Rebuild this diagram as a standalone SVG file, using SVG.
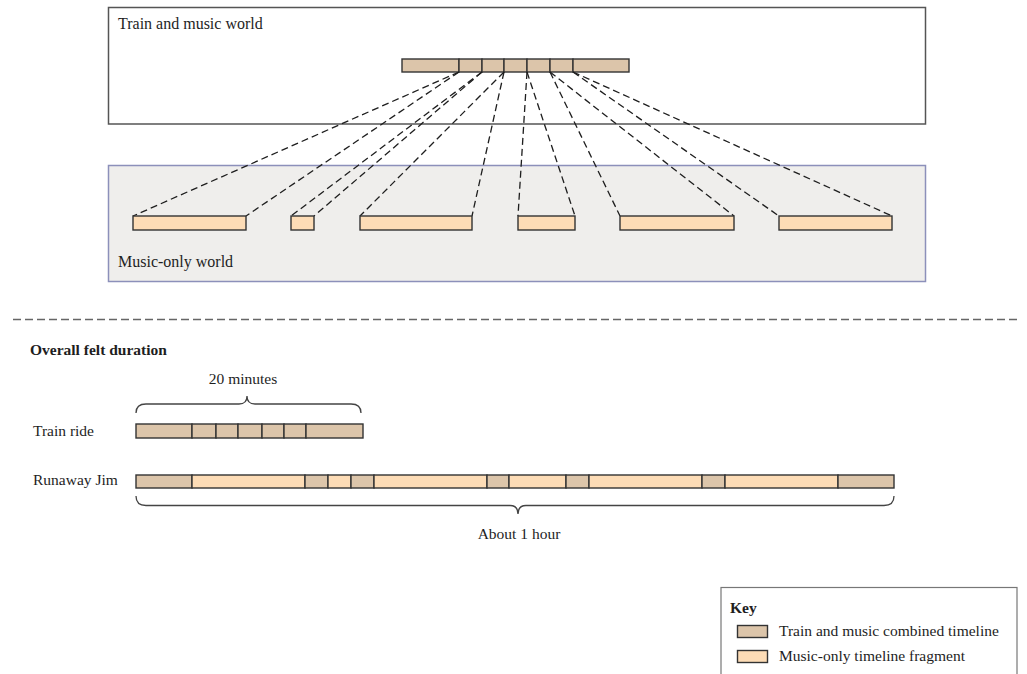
<svg xmlns="http://www.w3.org/2000/svg" width="1027" height="674" viewBox="0 0 1027 674">
<style>
text{font-family:"Liberation Serif","Times New Roman",serif;fill:#1e1e1e;font-size:15.5px}
.world{font-size:16px}
.b{fill:#dcc5aa;stroke:#333;stroke-width:1.4}
.p{fill:#fddcb6;stroke:#333;stroke-width:1.4}
.dash{stroke:#1e1e1e;stroke-width:1.3;stroke-dasharray:7,4;fill:none}
.brace{fill:none;stroke:#444;stroke-width:1.3}
</style>
<rect width="1027" height="674" fill="#fff"/>
<g id="train-music-world">
<rect x="108.5" y="7.5" width="817" height="116.5" fill="#fff" stroke="#555" stroke-width="1.5"/>
<text class="world" x="118" y="29">Train and music world</text>
<g id="combined-bar">
<rect class="b" x="402" y="59" width="57" height="13"/>
<rect class="b" x="459" y="59" width="23" height="13"/>
<rect class="b" x="482" y="59" width="22" height="13"/>
<rect class="b" x="504" y="59" width="23" height="13"/>
<rect class="b" x="527" y="59" width="23" height="13"/>
<rect class="b" x="550" y="59" width="23" height="13"/>
<rect class="b" x="573" y="59" width="56" height="13"/>
</g>
</g>
<g id="music-only-world">
<rect x="108.5" y="165.5" width="817" height="116" fill="#efeeec" stroke="#8c90ba" stroke-width="1.5"/>
<text class="world" x="118" y="267">Music-only world</text>
</g>
<g id="connectors">
<line class="dash" x1="459" y1="72" x2="133" y2="216"/>
<line class="dash" x1="459" y1="72" x2="246" y2="216"/>
<line class="dash" x1="482" y1="72" x2="291" y2="216"/>
<line class="dash" x1="482" y1="72" x2="314" y2="216"/>
<line class="dash" x1="504" y1="72" x2="360" y2="216"/>
<line class="dash" x1="504" y1="72" x2="472" y2="216"/>
<line class="dash" x1="527" y1="72" x2="518" y2="216"/>
<line class="dash" x1="527" y1="72" x2="575" y2="216"/>
<line class="dash" x1="550" y1="72" x2="620" y2="216"/>
<line class="dash" x1="550" y1="72" x2="734" y2="216"/>
<line class="dash" x1="573" y1="72" x2="779" y2="216"/>
<line class="dash" x1="573" y1="72" x2="892" y2="216"/>
</g>
<g id="fragment-1"><rect class="p" x="133" y="216" width="113" height="14"/></g>
<g id="fragment-2"><rect class="p" x="291" y="216" width="23" height="14"/></g>
<g id="fragment-3"><rect class="p" x="360" y="216" width="112" height="14"/></g>
<g id="fragment-4"><rect class="p" x="518" y="216" width="57" height="14"/></g>
<g id="fragment-5"><rect class="p" x="620" y="216" width="114" height="14"/></g>
<g id="fragment-6"><rect class="p" x="779" y="216" width="113" height="14"/></g>
<line x1="13" y1="319.5" x2="1017" y2="319.5" stroke="#666" stroke-width="1.5" stroke-dasharray="8,4"/>
<g id="felt-duration">
<text x="30" y="355" font-weight="bold">Overall felt duration</text>
</g>
<g id="train-ride">
<text x="33" y="436">Train ride</text>
<text x="243" y="384" text-anchor="middle">20 minutes</text>
<path class="brace" d="M136,413 Q136,404 146,404 L239,404 Q247,404 247,396 Q247,404 255,404 L351,404 Q361,404 361,413"/>
<rect class="b" x="136" y="424" width="56" height="14"/>
<rect class="b" x="192" y="424" width="24" height="14"/>
<rect class="b" x="216" y="424" width="22" height="14"/>
<rect class="b" x="238" y="424" width="24" height="14"/>
<rect class="b" x="262" y="424" width="22" height="14"/>
<rect class="b" x="284" y="424" width="22" height="14"/>
<rect class="b" x="306" y="424" width="57" height="14"/>
</g>
<g id="runaway-jim">
<text x="33" y="485">Runaway Jim</text>
<rect class="b" x="136" y="475" width="56" height="13"/>
<rect class="p" x="192" y="475" width="113" height="13"/>
<rect class="b" x="305" y="475" width="23" height="13"/>
<rect class="p" x="328" y="475" width="23" height="13"/>
<rect class="b" x="351" y="475" width="23" height="13"/>
<rect class="p" x="374" y="475" width="113" height="13"/>
<rect class="b" x="487" y="475" width="22" height="13"/>
<rect class="p" x="509" y="475" width="57" height="13"/>
<rect class="b" x="566" y="475" width="23" height="13"/>
<rect class="p" x="589" y="475" width="113" height="13"/>
<rect class="b" x="702" y="475" width="23" height="13"/>
<rect class="p" x="725" y="475" width="113" height="13"/>
<rect class="b" x="838" y="475" width="56" height="13"/>
<path class="brace" d="M136,496 Q136,505.5 146,505.5 L510,505.5 Q518,505.5 518,514 Q518,505.5 526,505.5 L884,505.5 Q894,505.5 894,496"/>
<text x="519" y="539" text-anchor="middle">About 1 hour</text>
</g>
<g id="key">
<rect x="721" y="587.5" width="296" height="100" fill="#fff" stroke="#777" stroke-width="1.2"/>
<text x="730" y="613" font-weight="bold" font-size="17">Key</text>
<rect class="b" x="737.5" y="625.5" width="30" height="12"/>
<text x="779" y="636">Train and music combined timeline</text>
<rect class="p" x="737.5" y="650.5" width="30" height="12"/>
<text x="779" y="661">Music-only timeline fragment</text>
</g>
</svg>
